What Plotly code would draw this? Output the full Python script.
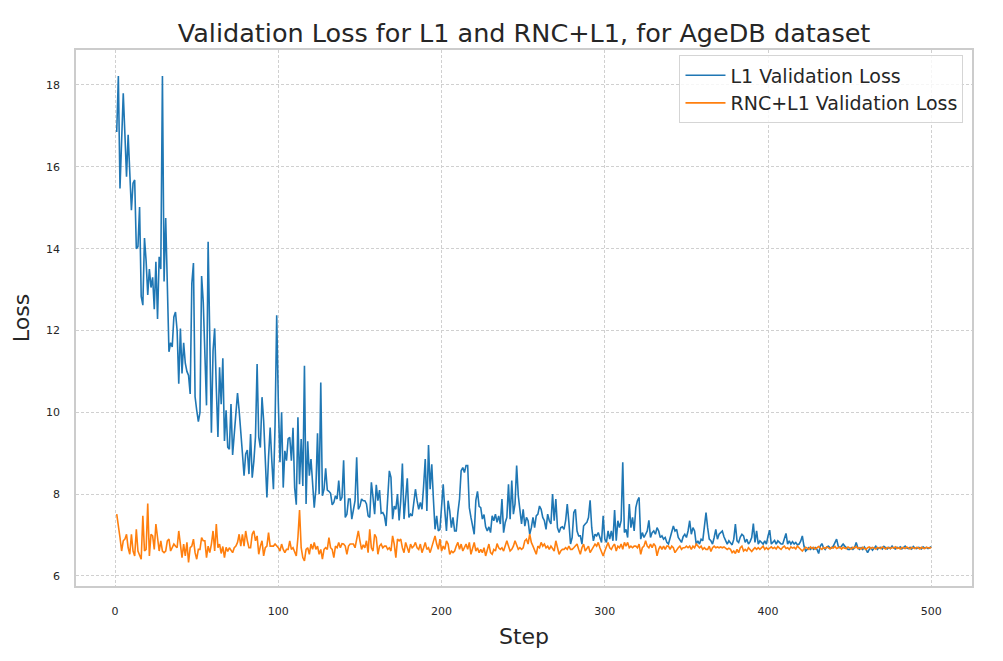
import plotly.graph_objects as go

l1_loss = [
    16.85, 18.22, 15.47, 16.6, 17.8, 16.8, 15.76, 16.78, 15.9, 14.94,
    15.6, 15.68, 14.0, 14.05, 15.02, 12.83, 12.62, 14.26, 13.7, 12.87,
    13.5, 13.05, 13.3, 12.52, 13.68, 12.28, 13.8, 13.5, 18.22, 13.2,
    14.75, 13.1, 11.48, 11.7, 11.6, 12.33, 12.45, 12.0, 10.7, 12.05,
    10.95, 11.7, 11.2, 11.0, 10.9, 10.45, 13.15, 13.65, 10.38, 10.05,
    9.77, 10.0, 13.33, 12.7, 11.5, 10.17, 14.17, 12.1, 9.5, 11.5,
    12.05, 10.6, 9.4, 11.1, 10.2, 11.32, 9.3, 10.05, 9.15, 9.1,
    10.2, 8.96, 9.43, 10.0, 10.47, 10.04, 9.6, 9.0, 8.45, 8.98,
    9.08, 8.49, 9.47, 8.4, 8.8, 9.4, 11.18, 9.39, 9.14, 10.37,
    9.8, 8.82, 7.92, 8.9, 9.63, 8.82, 8.12, 9.71, 12.37, 10.24,
    8.78, 10.0, 8.16, 9.06, 8.82, 9.35, 9.39, 8.82, 9.62, 8.16,
    7.74, 9.88, 8.24, 9.35, 8.2, 11.14, 7.76, 9.29, 8.45, 8.86,
    8.2, 7.67, 8.12, 9.49, 8.0, 10.73, 7.96, 8.12, 8.63, 8.1,
    8.07, 8.02, 7.74, 7.8, 7.96, 7.88, 8.33, 7.84, 7.92, 8.83,
    7.43, 7.51, 7.88, 7.88, 7.39, 7.59, 7.84, 8.9, 7.63, 7.71,
    7.88, 7.84, 7.84, 7.76, 7.47, 7.43, 8.29, 7.92, 7.51, 8.23,
    7.84, 8.1, 7.53, 7.55, 7.47, 7.22, 7.92, 8.57, 8.41, 7.39,
    7.71, 7.63, 8.0, 7.36, 7.84, 8.75, 7.39, 7.84, 8.39, 7.43,
    7.51, 7.47, 7.76, 8.12, 7.84, 7.63, 7.8, 7.63, 8.2, 8.86,
    7.59, 9.2, 8.12, 8.73, 7.88, 7.14, 7.47, 7.1, 7.14, 7.84,
    8.24, 7.59, 7.1, 7.84, 7.59, 7.18, 7.43, 7.1, 7.1, 7.55,
    7.88, 8.57, 8.65, 8.53, 8.7, 8.7, 7.67, 7.43, 7.22, 7.02,
    7.85, 8.07, 7.7, 7.67, 7.39, 7.5, 7.2, 7.1, 7.2, 7.06,
    7.47, 7.35, 7.51, 7.31, 7.47, 7.27, 7.88, 7.06, 7.31, 7.43,
    8.24, 7.39, 8.33, 7.51, 7.76, 8.7, 7.96, 7.67, 7.27, 7.63,
    7.22, 7.43, 7.35, 7.02, 7.18, 7.43, 7.18, 7.47, 7.51, 7.71,
    7.63, 7.43, 7.35, 7.14, 7.51, 7.35, 7.27, 8.0, 7.35, 7.88,
    7.18, 7.06, 7.18, 7.2, 7.14, 7.35, 7.76, 7.31, 6.78, 6.94,
    7.55, 7.63, 7.1, 6.98, 6.98, 6.78, 7.22, 7.27, 7.31, 7.43,
    7.85, 7.18, 6.86, 7.02, 6.98, 7.06, 6.94, 6.82, 7.47, 6.9,
    6.82, 7.1, 6.9, 7.1, 6.86, 7.61, 6.86, 7.35, 7.18, 7.35,
    8.78, 7.06, 7.14, 6.94, 7.76, 7.18, 7.43, 7.1, 7.67, 7.84,
    7.92, 6.9, 7.06, 6.94, 7.02, 7.1, 7.36, 6.94, 7.06, 7.1,
    7.02, 7.18, 7.1, 6.94, 6.98, 6.9, 6.94, 6.82, 6.78, 6.94,
    7.1, 7.22, 7.1, 7.14, 6.94, 6.86, 6.82, 6.96, 7.02, 6.94,
    7.1, 7.35, 7.02, 7.18, 7.1, 6.78, 6.86, 6.78, 6.9, 6.86,
    7.27, 7.55, 7.18, 6.9, 6.86, 6.78, 6.94, 7.14, 6.9, 7.02,
    7.06, 7.1, 6.96, 6.86, 6.78, 6.86, 6.8, 6.76, 6.9, 7.27,
    6.86, 6.82, 6.95, 7.02, 6.98, 6.82, 6.9, 6.78, 6.84, 6.94,
    7.28, 6.82, 7.1, 6.78, 6.86, 6.82, 6.78, 6.86, 6.78, 6.98,
    7.12, 6.78, 6.82, 6.87, 6.78, 6.86, 6.82, 6.78, 6.78, 6.94,
    7.04, 6.78, 6.86, 6.78, 6.84, 6.78, 6.82, 6.76, 6.78, 6.85,
    6.98, 6.73, 6.61, 6.65, 6.69, 6.65, 6.69, 6.65, 6.69, 6.65,
    6.55, 6.73, 6.79, 6.69, 6.65, 6.71, 6.73, 6.69, 6.68, 6.73,
    6.82, 6.9, 6.73, 6.69, 6.73, 6.78, 6.73, 6.69, 6.65, 6.65,
    6.69, 6.65, 6.69, 6.82, 6.69, 6.65, 6.69, 6.65, 6.71, 6.65,
    6.57, 6.65, 6.69, 6.63, 6.69, 6.73, 6.65, 6.69, 6.7, 6.66,
    6.72, 6.68, 6.66, 6.7, 6.67, 6.73, 6.68, 6.66, 6.7, 6.68,
    6.71, 6.66, 6.69, 6.73, 6.68, 6.67, 6.7, 6.66, 6.72, 6.68,
    6.67, 6.7, 6.69, 6.66, 6.71, 6.68, 6.7, 6.67, 6.69, 6.72,
]

rnc_l1_loss = [
    7.51, 7.27, 6.94, 6.61, 6.86, 6.9, 7.02, 6.69, 6.53, 7.02,
    6.61, 6.49, 7.14, 6.61, 6.53, 6.41, 7.47, 6.61, 6.65, 7.77,
    6.49, 7.02, 6.98, 6.65, 7.27, 6.86, 6.61, 6.86, 6.61, 6.57,
    6.61, 6.86, 6.9, 6.61, 6.69, 6.78, 6.73, 6.69, 7.1, 6.78,
    6.45, 6.78, 6.49, 6.82, 6.33, 6.69, 6.73, 6.9, 6.57, 6.41,
    6.65, 6.65, 6.94, 6.86, 6.86, 6.45, 6.73, 6.57, 6.78, 7.1,
    6.61, 7.27, 6.69, 6.78, 6.55, 6.72, 6.45, 6.7, 6.6, 6.69,
    6.62, 6.57, 6.69, 6.73, 6.82, 7.02, 6.73, 7.02, 6.73, 7.1,
    6.86, 6.69, 6.69, 7.02, 7.1, 6.86, 6.98, 6.53, 6.73, 6.86,
    6.49, 6.69, 6.73, 7.06, 6.73, 6.73, 6.73, 6.78, 6.73, 6.69,
    6.61, 6.78, 6.65, 6.57, 6.65, 6.65, 6.86, 6.65, 6.69, 6.61,
    6.49, 6.94, 7.61, 6.69, 6.45, 6.37, 6.65, 6.69, 6.53, 6.78,
    6.65, 6.82, 6.65, 6.73, 6.53, 6.65, 6.41, 6.65, 6.69, 6.65,
    6.94, 6.69, 6.65, 6.45, 6.73, 6.69, 6.82, 6.69, 6.79, 6.78,
    6.73, 6.53, 6.73, 6.78, 6.78, 6.78, 6.69, 6.94, 7.1, 6.86,
    6.65, 6.76, 6.69, 6.86, 6.57, 7.14, 6.69, 6.61, 7.02, 6.94,
    6.53, 6.73, 6.78, 6.69, 6.73, 6.73, 6.65, 6.69, 6.61, 6.98,
    6.78, 6.45, 6.9, 6.86, 6.9, 6.69, 6.57, 6.82, 6.69, 6.57,
    6.78, 6.69, 6.73, 6.82, 6.69, 6.65, 6.78, 6.57, 6.69, 6.82,
    6.65, 6.69, 6.57, 6.69, 6.86, 6.98, 6.78, 6.65, 6.9, 6.61,
    6.73, 6.65, 6.86, 6.78, 6.53, 6.61, 6.57, 6.61, 6.73, 6.82,
    6.65, 6.78, 6.61, 6.69, 6.78, 6.65, 6.82, 6.53, 6.65, 6.82,
    6.61, 6.69, 6.57, 6.65, 6.57, 6.69, 6.49, 6.65, 6.78, 6.57,
    6.53, 6.65, 6.61, 6.79, 6.69, 6.65, 6.69, 6.61, 6.73, 6.86,
    6.73, 6.61, 6.65, 6.73, 6.86, 6.73, 6.65, 6.69, 6.65, 6.69,
    6.86, 6.9, 6.78, 7.02, 6.82, 6.73, 6.65, 6.53, 6.73, 6.69,
    6.82, 6.73, 6.78, 6.69, 6.73, 6.65, 6.73, 6.65, 6.61, 6.86,
    6.65, 6.53, 6.61, 6.65, 6.65, 6.69, 6.65, 6.73, 6.65, 6.65,
    6.69, 6.73, 6.78, 6.65, 6.53, 6.69, 6.78, 6.61, 6.69, 6.73,
    6.57, 6.65, 6.73, 6.78, 6.73, 6.82, 6.69, 6.57, 6.49, 6.61,
    6.73, 6.82, 6.69, 6.65, 6.73, 6.78, 6.61, 6.73, 6.69, 6.78,
    6.65, 6.82, 6.73, 6.82, 6.69, 6.73, 6.69, 6.73, 6.73, 6.69,
    6.78, 6.53, 6.69, 6.73, 6.86, 6.73, 6.69, 6.78, 6.69, 6.79,
    6.73, 6.49, 6.65, 6.73, 6.65, 6.73, 6.65, 6.73, 6.73, 6.65,
    6.73, 6.69, 6.57, 6.65, 6.69, 6.73, 6.65, 6.69, 6.69, 6.73,
    6.69, 6.73, 6.65, 6.73, 6.69, 6.78, 6.73, 6.69, 6.73, 6.65,
    6.69, 6.65, 6.65, 6.73, 6.6, 6.69, 6.73, 6.69, 6.71, 6.69,
    6.71, 6.69, 6.71, 6.69, 6.65, 6.68, 6.65, 6.57, 6.61, 6.55,
    6.65, 6.57, 6.69, 6.73, 6.61, 6.65, 6.61, 6.69, 6.65, 6.6,
    6.65, 6.69, 6.65, 6.69, 6.65, 6.69, 6.73, 6.65, 6.69, 6.65,
    6.69, 6.71, 6.67, 6.7, 6.66, 6.72, 6.68, 6.65, 6.7, 6.73,
    6.67, 6.69, 6.65, 6.71, 6.68, 6.7, 6.66, 6.73, 6.69, 6.65,
    6.61, 6.66, 6.7, 6.68, 6.65, 6.71, 6.67, 6.7, 6.66, 6.69,
    6.72, 6.68, 6.65, 6.7, 6.67, 6.71, 6.69, 6.66, 6.7, 6.68,
    6.72, 6.67, 6.69, 6.71, 6.66, 6.7, 6.68, 6.67, 6.71, 6.69,
    6.66, 6.7, 6.68, 6.72, 6.67, 6.69, 6.66, 6.7, 6.68, 6.65,
    6.69, 6.71, 6.67, 6.7, 6.68, 6.66, 6.7, 6.69, 6.67, 6.71,
    6.68, 6.66, 6.7, 6.69, 6.67, 6.7, 6.68, 6.71, 6.67, 6.69,
    6.66, 6.7, 6.68, 6.67, 6.71, 6.69, 6.66, 6.7, 6.68, 6.67,
    6.7, 6.69, 6.66, 6.7, 6.68, 6.67, 6.7, 6.69, 6.68, 6.7,
]

steps_l1 = list(range(1, len(l1_loss) + 1))
steps_rnc = list(range(1, len(rnc_l1_loss) + 1))

x_ticks = [0, 100, 200, 300, 400, 500]
y_ticks = [6, 8, 10, 12, 14, 16, 18]

FONT = "DejaVu Sans"
TXT = "#262626"

fig = go.Figure()
fig.add_trace(go.Scatter(x=steps_l1, y=l1_loss, mode="lines", name="L1 Validation Loss",
                         line=dict(color="#1f77b4", width=1.6)))
fig.add_trace(go.Scatter(x=steps_rnc, y=rnc_l1_loss, mode="lines", name="RNC+L1 Validation Loss",
                         line=dict(color="#ff7f0e", width=1.6)))

axis_common = dict(
    showline=True, mirror=True, linecolor="#cccccc", linewidth=1.5,
    showgrid=True, gridcolor="#d0d0d0", griddash="3px,2px", gridwidth=0.8,
    zeroline=False, ticks="", tickfont=dict(family=FONT, size=11, color=TXT),
)

fig.update_layout(
    width=1003, height=661,
    paper_bgcolor="white", plot_bgcolor="white",
    margin=dict(l=76, r=31, t=50, b=75),
    title=dict(text="Validation Loss for L1 and RNC+L1, for AgeDB dataset",
               x=0.5225, xanchor="center", y=0.95, yanchor="middle",
               font=dict(family=FONT, size=25.5, color=TXT)),
    showlegend=True,
    legend=dict(x=0.9905, y=0.99, xanchor="right", yanchor="top",
                bgcolor="rgba(255,255,255,0.8)", bordercolor="#d5d5d5", borderwidth=1,
                font=dict(family=FONT, size=19, color=TXT), itemwidth=40,
                tracegroupgap=2),
    xaxis=dict(range=[-23.95, 524.95], tickvals=x_ticks, ticktext=[str(v) for v in x_ticks],
               title=dict(text="Step", font=dict(family=FONT, size=22, color=TXT), standoff=12),
               ticklabelstandoff=14, **axis_common),
    yaxis=dict(range=[5.755, 18.855], tickvals=y_ticks, ticktext=[str(v) for v in y_ticks],
               title=dict(text="Loss", font=dict(family=FONT, size=22, color=TXT), standoff=10),
               ticklabelstandoff=12, **axis_common),
)

fig.write_html("out.html")
